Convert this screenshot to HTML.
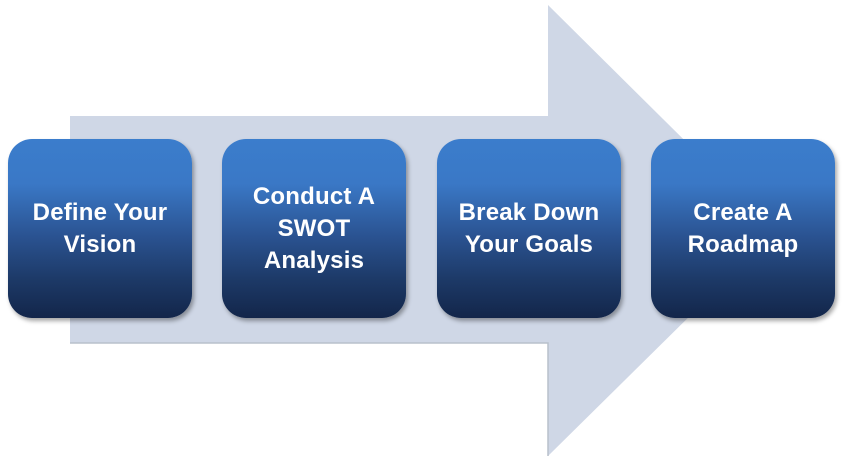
<!DOCTYPE html>
<html><head><style>
body{margin:0;width:842px;height:466px;background:#fff;position:relative;overflow:hidden;font-family:"Liberation Sans",sans-serif}
.b{position:absolute;top:139px;width:184px;height:179px;border-radius:24px;background:linear-gradient(#3b7dcc 0%,#3a78c6 25%,#2a5290 55%,#1d3a68 78%,#13264a 100%);box-shadow:2px 3px 4px rgba(0,0,0,.35);color:#fff;font-weight:bold;font-size:24px;line-height:32px;display:flex;align-items:center;justify-content:center;text-align:center;letter-spacing:0.2px}
</style></head><body>
<svg width="842" height="466" style="position:absolute;left:0;top:0">
<polygon points="70,116 548,116 548,5 776,231 548,456 548,343 70,343" fill="#cfd7e6"/>
<polyline points="70,343 548,343 548,456" fill="none" stroke="#b8c0cc" stroke-width="1.5"/>
</svg>
<div class="b" style="left:8px">Define Your<br>Vision</div>
<div class="b" style="left:222px">Conduct A<br>SWOT<br>Analysis</div>
<div class="b" style="left:437px">Break Down<br>Your Goals</div>
<div class="b" style="left:651px">Create A<br>Roadmap</div>
</body></html>
